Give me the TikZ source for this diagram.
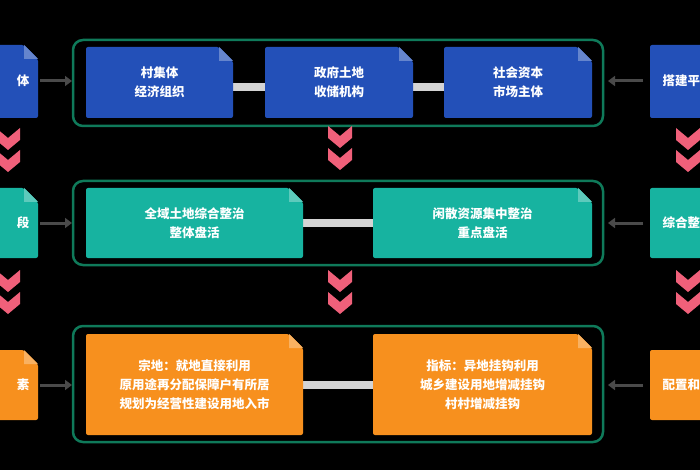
\documentclass[tikz,border=0pt]{standalone}
\usepackage{fontspec}
\newfontfamily\cjk{Noto Sans CJK SC}
\definecolor{cblue}{HTML}{2350B8}
\definecolor{cteal}{HTML}{17B3A0}
\definecolor{corange}{HTML}{F7901E}
\definecolor{cgreen}{HTML}{0F7A5A}
\definecolor{cpink}{HTML}{F0607A}
\definecolor{cgrey}{HTML}{D4D4D4}
\definecolor{carrow}{HTML}{4A4A4A}
\usetikzlibrary{arrows.meta}
\tikzset{
 txt/.style={text=white,font=\cjk\bfseries\fontsize{12.5}{19}\selectfont,align=center},
 frame/.style={draw=cgreen,line width=2.5pt,rounded corners=10pt},
 link/.style={fill=cgrey},
 arr/.style={draw=carrow,line width=3pt,-{Triangle[length=7pt,width=10pt]}},
}
\newcommand{\foldbox}[6]{% name, color, x1,y1,x2,y2
 \fill[#2,rounded corners=2pt] (#3,#4) -- (#5-14,#4) -- (#5,#4+14) -- (#5,#6) -- (#3,#6) -- cycle;
 \fill[#2!70!white] (#5-14,#4) -- (#5,#4+14) -- (#5-14,#4+14) -- cycle;
 \coordinate (#1) at ({(#3+#5)/2},{(#4+#6)/2});
}
\newcommand{\chev}[3]{% name, x, y top
 \coordinate (#1) at (#2,#3);
 \foreach \d in {0,22}{
 \fill[cpink] (#2-12,#3+\d) -- (#2,#3+\d+10) -- (#2+12,#3+\d) -- (#2+12,#3+\d+12) -- (#2,#3+\d+22) -- (#2-12,#3+\d+12) -- cycle;}
}
\begin{document}
\begin{tikzpicture}[x=1pt,y=-1pt]
\fill[black] (0,0) rectangle (700,470);
\clip (0,0) rectangle (700,470);
% frames
\draw[frame] (73,40) rectangle (603,126);
\draw[frame] (73,181) rectangle (603,265);
\draw[frame] (73,326) rectangle (603,442);
% row 1
\fill[link] (233,83) rectangle (265,91);
\fill[link] (413,83) rectangle (444,91);
\foldbox{b1}{cblue}{86}{47}{233}{118}
\foldbox{b2}{cblue}{265}{47}{413}{118}
\foldbox{b3}{cblue}{444}{47}{592}{118}
\node[txt] at (b1) {村集体\\经济组织};
\node[txt] at (b2) {政府土地\\收储机构};
\node[txt] at (b3) {社会资本\\市场主体};
% row 2
\fill[link] (303,219) rectangle (373,227);
\foldbox{c1}{cteal}{86}{188}{303}{258}
\foldbox{c2}{cteal}{373}{188}{592}{258}
\node[txt] at (c1) {全域土地综合整治\\整体盘活};
\node[txt] at (c2) {闲散资源集中整治\\重点盘活};
% row 3
\fill[link] (303,381) rectangle (373,389);
\foldbox{d1}{corange}{86}{334}{303}{435}
\foldbox{d2}{corange}{373}{334}{592}{435}
\node[txt] at (d1) {宗地：就地直接利用\\原用途再分配保障户有所居\\规划为经营性建设用地入市};
\node[txt] at (d2) {指标：异地挂钩利用\\城乡建设用地增减挂钩\\村村增减挂钩};
% side boxes
\foldbox{l1}{cblue}{-20}{45}{38}{118}
\foldbox{l2}{cteal}{-20}{188}{38}{258}
\foldbox{l3}{corange}{-20}{350}{38}{420}
\node[txt,anchor=east] at (33,81) {体};
\node[txt,anchor=east] at (33,223) {段};
\node[txt,anchor=east] at (33,385) {素};
\fill[cblue,rounded corners=2pt] (650,45) rectangle (720,118);
\fill[cteal,rounded corners=2pt] (650,188) rectangle (720,258);
\fill[corange,rounded corners=2pt] (650,350) rectangle (720,420);
\node[txt,anchor=west] (r1) at (659,81) {搭建平};
\node[txt,anchor=west] (r2) at (659,223) {综合整};
\node[txt,anchor=west] (r3) at (659,385) {配置和};
% arrows
\coordinate (la1) at (40,81); \coordinate (la2) at (40,223); \coordinate (la3) at (40,385);
\coordinate (lb1) at (72,81); \coordinate (lb2) at (72,223); \coordinate (lb3) at (72,385);
\coordinate (ra1) at (643,81); \coordinate (ra2) at (643,223); \coordinate (ra3) at (643,385);
\coordinate (rb1) at (608,81); \coordinate (rb2) at (608,223); \coordinate (rb3) at (608,385);
\foreach \i in {1,2,3}{\draw[arr] (la\i) -- (lb\i); \draw[arr] (ra\i) -- (rb\i);}
% chevrons
\chev{k1}{340}{126}
\chev{k2}{340}{270}
\chev{k3}{8}{128}
\chev{k4}{8}{270}
\chev{k5}{688}{128}
\chev{k6}{688}{270}
\end{tikzpicture}
\end{document}
